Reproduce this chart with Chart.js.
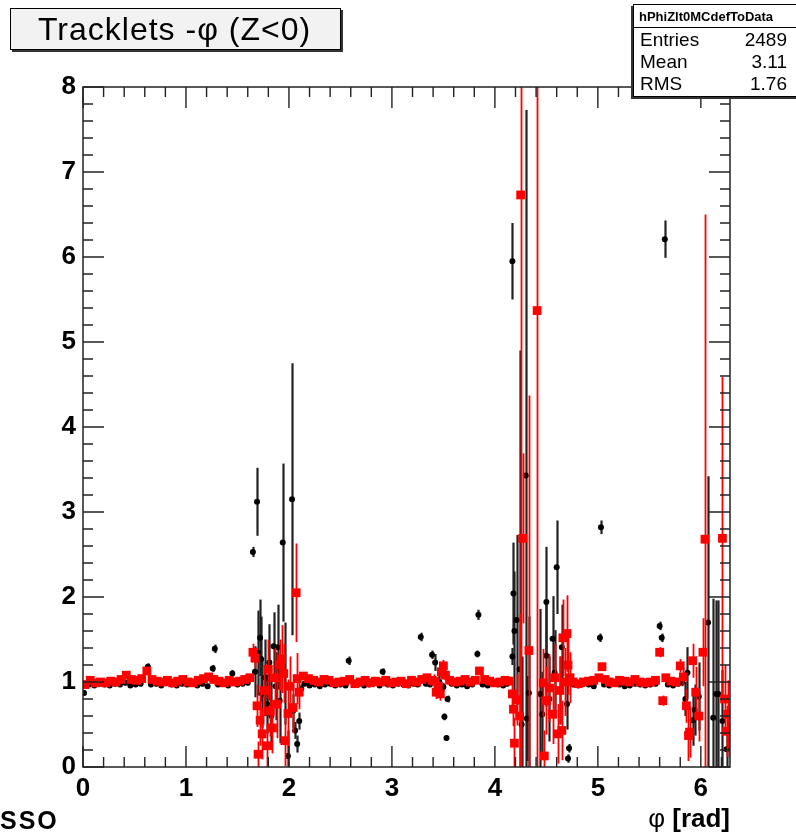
<!DOCTYPE html>
<html>
<head>
<meta charset="utf-8">
<script src="https://cdn.jsdelivr.net/npm/chart.js@4.4.0/dist/chart.umd.min.js"></script>
<style>
  html, body { margin: 0; padding: 0; background: #fff; }
  #wrap { position: relative; width: 796px; height: 837px; overflow: hidden; font-family: "Liberation Sans", Arial, sans-serif; }
  #c { position: absolute; left: 0; top: 0; }
  .title {
    position: absolute; left: 10px; top: 8px; width: 331px; height: 42px; box-sizing: border-box;
    border: 1px solid #000; background: #f2f2f2; box-shadow: 2px 2px 0 #333;
    font-size: 32px; line-height: 40px; padding-left: 27px; letter-spacing: 1px; white-space: nowrap;
  }
  .stats {
    position: absolute; left: 633px; top: 4px; width: 170px; height: 93px; box-sizing: border-box;
    border: 1px solid #000; background: #fff; box-shadow: -2px 2px 0 #333;
  }
  .stats .hdr { height: 22px; line-height: 24px; border-bottom: 1px solid #000; font-weight: bold; font-size: 13px; text-align: left; padding-left: 5px; }
  .stats .row { height: 22px; line-height: 24px; font-size: 19px; padding: 0 15px 0 6px; display: flex; justify-content: space-between; }
  .lbl { position: absolute; font-weight: bold; white-space: nowrap; }
</style>
</head>
<body>
<div id="wrap">
  <canvas id="c" width="796" height="837"></canvas>
  <div class="title">Tracklets -φ (Z&lt;0)</div>
  <div class="stats">
    <div class="hdr">hPhiZlt0MCdefToData</div>
    <div class="row"><span>Entries</span><span>2489</span></div>
    <div class="row"><span>Mean</span><span>3.11</span></div>
    <div class="row"><span>RMS</span><span>1.76</span></div>
  </div>
  <div class="lbl" style="left:0px; top:806px; font-size:25px; letter-spacing:2px;">SSO</div>
  <div class="lbl" style="right:66px; top:803px; font-size:26px;"><span style="font-weight:normal">φ</span> [rad]</div>
</div>
<script>
// axis labels
const xTickLabels = ['0', '1', '2', '3', '4', '5', '6'];
const yTickLabels = ['0', '1', '2', '3', '4', '5', '6', '7', '8'];

// red series (MC / data)
const redPhi = [
  0.02,0.07,0.12,0.17,0.22,0.27,0.32,0.37,0.42,0.47,0.52,0.57,0.62,0.67,0.72,0.77,0.82,0.87,0.92,0.97,1.02,1.07,1.12,1.17,1.22,1.27,1.32,1.37,1.42,1.47,1.52,1.57,1.62,
  1.65,1.67,1.69,1.70,1.72,1.74,1.76,1.79,1.80,1.82,1.84,1.86,1.88,1.91,1.93,1.95,1.96,1.99,2.01,2.04,2.07,2.08,2.10,
  2.14,2.19,2.24,2.29,2.34,2.39,2.44,2.49,2.54,2.59,2.64,2.69,2.74,2.79,2.84,2.89,2.94,2.99,3.04,3.09,3.14,3.19,3.24,3.29,3.34,3.39,
  3.41,3.43,3.45,3.47,3.48,3.50,3.52,
  3.56,3.61,3.66,3.71,3.76,3.81,3.85,3.90,3.95,4.00,4.05,4.10,4.14,
  4.17,4.18,4.19,4.21,4.25,4.24,4.27,4.33,4.41,4.47,4.48,4.50,4.53,4.56,4.58,4.61,4.63,4.65,4.66,4.68,4.70,4.71,4.73,
  4.76,4.81,4.86,4.91,4.96,5.01,5.04,5.07,5.11,5.16,5.21,5.26,5.31,5.36,5.41,5.46,5.51,5.56,5.60,5.63,5.66,5.71,5.76,
  5.80,5.83,5.86,5.88,5.89,5.92,5.95,5.98,6.02,6.04,6.21,6.23,6.25,6.26
];
const redVal = [
  0.97,1.02,0.99,1.00,0.99,1.01,1.00,1.03,1.08,1.03,1.02,1.04,1.13,1.03,1.01,1.00,1.02,0.99,1.01,1.03,1.00,0.99,1.02,1.04,1.06,1.03,1.01,0.99,1.02,1.00,1.01,1.03,1.05,
  1.35,1.28,0.72,0.15,0.55,0.39,0.90,0.25,1.15,0.66,0.46,1.05,0.74,1.20,1.27,1.10,0.31,0.63,0.95,0.70,2.05,1.04,0.88,
  1.07,1.04,1.02,1.00,1.03,1.02,0.99,1.00,1.01,1.03,0.98,1.00,1.02,0.99,1.01,1.00,1.02,0.99,1.00,1.01,0.98,1.02,1.00,1.03,1.05,1.02,
  1.01,0.88,0.95,0.86,1.12,1.19,1.08,
  1.02,1.00,1.01,1.03,1.00,1.02,1.13,1.03,1.01,0.99,1.00,1.02,1.01,
  0.86,0.68,0.28,0.79,6.73,0.60,2.69,1.37,5.37,0.99,0.13,0.78,0.93,0.62,1.05,0.39,0.90,0.43,1.52,1.00,1.57,1.20,1.05,
  1.00,0.98,1.00,1.01,1.02,1.05,1.18,1.03,1.00,0.99,1.02,1.01,1.00,1.03,1.00,0.99,1.00,1.02,1.35,0.78,1.05,1.01,1.00,
  1.19,1.06,0.72,0.37,0.41,1.25,0.88,0.60,1.35,2.68,2.69,0.80,0.42,0.62
];
const redErr = [
  0.03,0.03,0.03,0.03,0.03,0.03,0.03,0.03,0.03,0.03,0.03,0.03,0.04,0.03,0.03,0.03,0.03,0.03,0.03,0.03,0.03,0.03,0.03,0.03,0.03,0.03,0.03,0.03,0.03,0.03,0.03,0.03,0.04,
  0.10,0.12,0.25,0.15,0.30,0.30,0.30,0.25,0.35,0.30,0.30,0.35,0.40,0.30,0.40,0.35,0.30,0.40,0.35,0.30,0.58,0.30,0.20,
  0.03,0.03,0.03,0.03,0.03,0.03,0.03,0.03,0.03,0.03,0.03,0.03,0.03,0.03,0.03,0.03,0.03,0.03,0.03,0.03,0.03,0.03,0.03,0.03,0.03,0.03,
  0.08,0.08,0.10,0.08,0.08,0.07,0.06,
  0.03,0.03,0.03,0.03,0.03,0.03,0.04,0.03,0.03,0.03,0.03,0.03,0.03,
  0.15,0.20,0.30,0.30,7.00,1.20,1.00,3.00,6.00,0.40,0.30,0.40,0.40,0.35,0.40,0.35,0.40,0.35,0.45,0.40,0.45,0.35,0.30,
  0.03,0.03,0.03,0.03,0.03,0.04,0.05,0.03,0.03,0.03,0.03,0.03,0.03,0.03,0.03,0.03,0.03,0.03,0.06,0.06,0.03,0.03,0.03,
  0.08,0.10,0.20,0.30,0.30,0.20,0.30,0.30,0.40,3.82,1.90,0.40,0.30,0.40
];

// black series
const blackPhi = [
  0.01,0.06,0.11,0.16,0.21,0.26,0.31,0.36,0.41,0.46,0.51,0.56,0.63,0.66,0.71,0.76,0.81,0.86,0.91,0.96,1.01,1.06,1.11,1.16,1.21,1.26,1.28,1.31,1.36,1.41,1.45,1.50,1.55,1.60,
  1.65,1.67,1.69,1.70,1.72,1.73,1.74,1.77,1.79,1.81,1.83,1.85,1.87,1.89,1.91,1.94,1.96,1.99,2.03,2.04,2.06,2.08,2.10,2.12,
  2.15,2.20,2.25,2.30,2.35,2.40,2.45,2.50,2.55,2.58,2.63,2.68,2.73,2.78,2.83,2.88,2.91,2.96,3.01,3.06,3.11,3.16,3.21,3.25,3.28,3.33,3.37,3.39,3.42,3.46,
  3.50,3.51,3.53,3.54,3.58,3.63,3.68,3.73,3.78,3.83,3.84,3.88,3.93,3.98,4.03,4.08,4.12,
  4.17,4.17,4.18,4.19,4.21,4.24,4.26,4.30,4.31,4.33,4.44,4.46,4.50,4.50,4.53,4.56,4.58,4.60,4.63,4.65,4.70,4.71,4.72,
  4.76,4.81,4.86,4.91,4.96,5.02,5.03,5.06,5.11,5.16,5.21,5.26,5.31,5.36,5.41,5.46,5.51,5.56,5.60,5.62,5.65,5.68,5.73,5.78,
  5.82,5.85,5.87,5.92,5.94,5.98,6.07,6.12,6.15,6.17,6.21,6.25,6.28
];
const blackVal = [
  0.87,0.97,0.96,0.98,0.97,0.96,0.98,0.97,0.99,0.96,0.97,0.98,1.18,0.97,0.98,0.96,0.99,0.97,0.96,0.98,0.97,0.99,0.96,0.98,0.95,1.16,1.39,0.97,0.98,0.96,1.10,0.97,0.98,0.99,
  2.53,1.12,3.12,1.34,1.52,1.27,0.86,1.05,0.74,1.23,0.60,1.42,0.95,1.41,0.78,2.64,1.10,0.13,3.15,0.66,0.43,0.27,0.54,0.92,
  0.98,0.96,0.97,0.95,0.97,0.98,0.96,0.97,0.96,1.25,0.97,0.98,0.96,0.97,0.99,0.96,1.12,0.97,0.96,0.98,0.97,0.96,0.98,0.97,1.53,0.98,0.97,1.32,1.23,1.00,
  0.94,0.59,0.34,0.80,0.98,0.96,0.97,0.95,0.97,1.33,1.79,0.97,0.96,0.98,0.97,0.96,0.98,
  5.95,1.30,2.04,1.60,1.73,1.15,0.50,3.43,0.57,0.87,0.86,0.62,1.94,1.31,0.80,1.51,1.11,2.35,0.90,1.41,0.74,0.10,0.22,
  0.97,0.96,0.98,0.97,0.95,1.52,2.82,0.97,0.96,0.98,0.97,0.95,0.96,0.98,0.97,0.96,0.97,0.98,1.66,1.52,6.21,0.97,0.96,0.98,
  1.00,0.80,1.11,0.55,0.67,0.83,1.70,0.58,0.86,0.86,0.54,0.21,0.31
];
const blackErr = [
  0.03,0.03,0.03,0.03,0.03,0.03,0.03,0.03,0.03,0.03,0.03,0.03,0.04,0.03,0.03,0.03,0.03,0.03,0.03,0.03,0.03,0.03,0.03,0.03,0.03,0.04,0.05,0.03,0.03,0.03,0.04,0.03,0.03,0.03,
  0.06,0.30,0.40,0.50,0.45,0.50,0.40,0.45,0.35,0.45,0.40,0.40,0.40,0.50,0.50,0.93,0.60,0.30,1.60,0.20,0.10,0.10,0.10,0.05,
  0.03,0.03,0.03,0.03,0.03,0.03,0.03,0.03,0.03,0.05,0.03,0.03,0.03,0.03,0.03,0.03,0.04,0.03,0.03,0.03,0.03,0.03,0.03,0.03,0.05,0.03,0.03,0.05,0.10,0.08,
  0.05,0.04,0.03,0.04,0.03,0.03,0.03,0.03,0.03,0.04,0.06,0.03,0.03,0.03,0.03,0.03,0.03,
  0.45,0.10,0.60,0.70,1.00,3.75,0.80,4.30,0.50,0.90,1.00,0.50,0.65,0.60,0.50,0.50,0.50,0.55,0.40,0.50,0.30,0.05,0.05,
  0.03,0.03,0.03,0.03,0.03,0.05,0.08,0.03,0.03,0.03,0.03,0.03,0.03,0.03,0.03,0.03,0.03,0.03,0.05,0.05,0.22,0.03,0.03,0.03,
  0.05,0.20,0.30,0.30,0.30,0.40,1.72,1.40,1.10,1.10,0.60,0.20,0.20
];

const PHI_MAX = 6.2832;

function points(xs, ys, es) {
    return xs.map((x, i) => ({ x: x, y: ys[i], e: es[i] }));
}

// error bars, frame and inward ticks in ROOT style
const rootStyle = {
    id: 'rootStyle',
    beforeDatasetDraw(chart, args) {
        const ds = chart.data.datasets[args.index];
        const ctx = chart.ctx, xs = chart.scales.x, ys = chart.scales.y, a = chart.chartArea;
        ctx.save();
        ctx.beginPath();
        ctx.rect(a.left, a.top, a.right - a.left, a.bottom - a.top);
        ctx.clip();
        ctx.strokeStyle = ds.errColor;
        ctx.lineWidth = ds.errWidth;
        ds.data.forEach(p => {
            const x = Math.round(xs.getPixelForValue(p.x)) + 0.5;
            ctx.beginPath();
            ctx.moveTo(x, ys.getPixelForValue(Math.max(0, p.y - p.e)));
            ctx.lineTo(x, ys.getPixelForValue(p.y + p.e));
            ctx.stroke();
        });
        ctx.restore();
    },
    afterDraw(chart) {
        const ctx = chart.ctx, xs = chart.scales.x, ys = chart.scales.y, a = chart.chartArea;
        ctx.save();
        ctx.strokeStyle = '#222';
        ctx.lineWidth = 1.5;
        ctx.strokeRect(a.left, a.top, a.right - a.left, a.bottom - a.top);
        ctx.lineWidth = 1.4;
        ctx.beginPath();
        for (let i = 0; i * 0.2 <= PHI_MAX; i++) {
            const x = xs.getPixelForValue(i * 0.2);
            const len = i % 5 === 0 ? 21 : 10;
            ctx.moveTo(x, a.bottom); ctx.lineTo(x, a.bottom - len);
            ctx.moveTo(x, a.top); ctx.lineTo(x, a.top + len);
        }
        for (let i = 0; i <= 40; i++) {
            const y = ys.getPixelForValue(i * 0.2);
            const len = i % 5 === 0 ? 21 : 10;
            ctx.moveTo(a.left, y); ctx.lineTo(a.left + len, y);
            ctx.moveTo(a.right, y); ctx.lineTo(a.right - len, y);
        }
        ctx.stroke();
        ctx.restore();
    }
};

const tickFont = { family: 'Liberation Sans', size: 26, weight: 'bold' };

new Chart(document.getElementById('c').getContext('2d'), {
    type: 'scatter',
    data: {
        datasets: [
            {
                label: 'red',
                data: points(redPhi, redVal, redErr),
                pointStyle: 'rect',
                pointRadius: 6.2,
                backgroundColor: '#ff0000',
                borderWidth: 0,
                errColor: '#ff0000',
                errWidth: 1.8,
                order: 0
            },
            {
                label: 'black',
                data: points(blackPhi, blackVal, blackErr),
                pointStyle: 'circle',
                pointRadius: 3,
                backgroundColor: '#000',
                borderWidth: 0,
                errColor: '#222',
                errWidth: 2.2,
                order: 1
            }
        ]
    },
    options: {
        responsive: false,
        animation: false,
        layout: { padding: { left: 0, right: 66, top: 87, bottom: 0 } },
        plugins: { legend: { display: false }, tooltip: { enabled: false } },
        scales: {
            x: {
                type: 'linear', min: 0, max: PHI_MAX,
                grid: { display: false, drawTicks: false },
                border: { display: false },
                ticks: {
                    stepSize: 1, includeBounds: false, autoSkip: false, maxRotation: 0,
                    padding: 6, color: '#000', font: tickFont,
                    callback: v => xTickLabels[v] ?? ''
                },
                afterFit(s) { s.height = 70; }
            },
            y: {
                min: 0, max: 8,
                grid: { display: false, drawTicks: false },
                border: { display: false },
                ticks: {
                    stepSize: 1, autoSkip: false, padding: 7, color: '#000', font: tickFont,
                    callback: v => yTickLabels[v] ?? ''
                },
                afterFit(s) { s.width = 83; }
            }
        }
    },
    plugins: [rootStyle]
});
</script>
</body>
</html>
